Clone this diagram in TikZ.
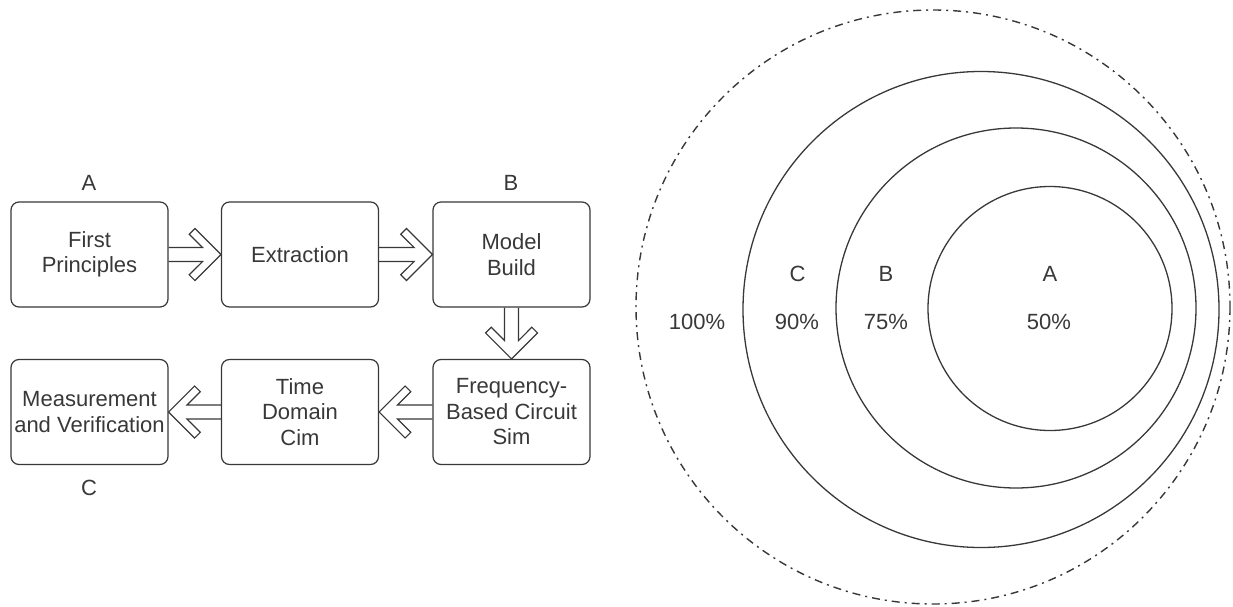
\documentclass[tikz,border=0pt]{standalone}
\usepackage{fontspec}
\setmainfont{Liberation Sans}
\usetikzlibrary{calc}
\definecolor{ink}{HTML}{383838}
\tikzset{
  box/.style={draw=ink, line width=1.2pt, rounded corners=8pt, minimum width=157pt, minimum height=105pt, inner sep=1pt, align=center, text=ink, font=\fontsize{22}{25.5}\selectfont},
  lbl/.style={text=ink, font=\fontsize{22}{25.5}\selectfont, inner sep=0pt},
  conn/.style={draw=ink, line width=1.2pt, line join=miter},
  ring/.style={draw=ink, line width=1.3pt},
  dashring/.style={draw=ink, line width=1.4pt, dash pattern=on 8pt off 5pt on 2pt off 5pt}
}
\newcommand\fatarrow[3]{%
  \begin{scope}[shift={(#2)}, rotate=#3]
    \coordinate (fa1) at (-18.3,7);
    \coordinate (fa1b) at (-40,7);
    \coordinate (fa3) at (-31.66,20.34);
    \coordinate (fa4) at (-26,26);
    \coordinate (fa5) at (-26,-26);
    \coordinate (fa6) at (-31.66,-20.34);
    \coordinate (fa2) at (-18.3,-7);
    \coordinate (fa2b) at (-40,-7);
  \end{scope}
  \draw[conn] ($(fa1)!(#1)!(fa1b)$) -- (fa1) -- (fa3) -- (fa4) -- (#2) -- (fa5) -- (fa6) -- (fa2) -- ($(fa2)!(#1)!(fa2b)$);
}
\begin{document}
\begin{tikzpicture}[x=1pt, y=-1pt]
\useasboundingbox (0,0) rectangle (1233,607);
% flow boxes
\node[box] (b1) at (89.5,254.5) {First\\Principles};
\node[box] (b2) at (300,254.5) {Extraction};
\node[box] (b3) at (511.5,254.5) {Model\\Build};
\node[box] (b4) at (89.5,412) {Measurement\\and Verification};
\node[box] (b5) at (300,412) {Time\\Domain\\Cim};
\node[box] (b6) at (511.5,412) {Frequency-\\Based Circuit\\Sim};
\node[lbl] (la) at (89,183) {A};
\node[lbl] (lb) at (511,183) {B};
\node[lbl] (lc) at (89,488) {C};
% arrows
\fatarrow{b1.east}{b2.west}{0}
\fatarrow{b2.east}{b3.west}{0}
\fatarrow{b3.south}{b6.north}{-90}
\fatarrow{b6.west}{b5.east}{180}
\fatarrow{b5.west}{b4.east}{180}
% circles
\draw[dashring] (933,307) circle[radius=297];
\draw[ring] (981,309.5) circle[radius=238];
\draw[ring] (1016,308) circle[radius=180];
\draw[ring] (1050,308.5) circle[radius=122];
\node[lbl] (cc) at (797.5,274) {C};
\node[lbl] (cb) at (886,274) {B};
\node[lbl] (ca) at (1050,274) {A};
\node[lbl] (p100) at (697,322) {100\%};
\node[lbl] (p90) at (797,322) {90\%};
\node[lbl] (p75) at (886,322) {75\%};
\node[lbl] (p50) at (1049,322) {50\%};
\end{tikzpicture}
\end{document}
